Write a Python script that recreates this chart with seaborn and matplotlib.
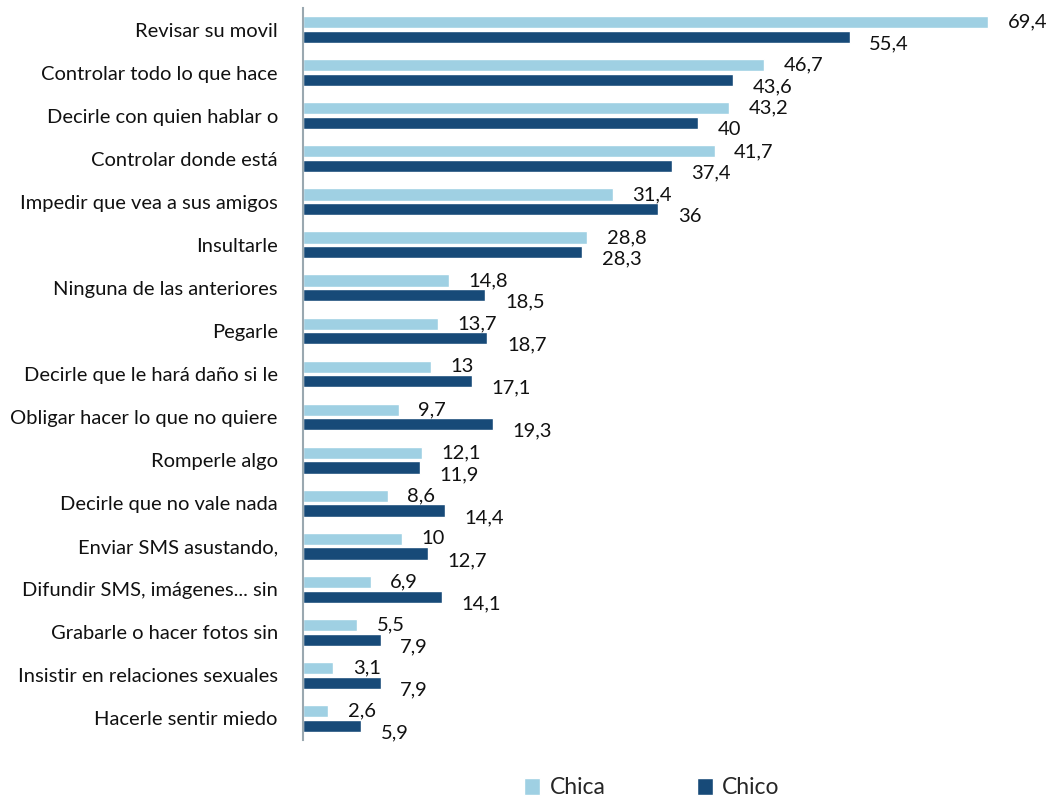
import numpy as np
import pandas as pd
import matplotlib
matplotlib.use("Agg")
import matplotlib.pyplot as plt
import seaborn as sns

categories = [
    "Revisar su movil",
    "Controlar todo lo que hace",
    "Decirle con quien hablar o",
    "Controlar donde está",
    "Impedir que vea a sus amigos",
    "Insultarle",
    "Ninguna de las anteriores",
    "Pegarle",
    "Decirle que le hará daño si le",
    "Obligar hacer lo que no quiere",
    "Romperle algo",
    "Decirle que no vale nada",
    "Enviar SMS asustando,",
    "Difundir SMS, imágenes... sin",
    "Grabarle o hacer fotos sin",
    "Insistir en relaciones sexuales",
    "Hacerle sentir miedo",
]
chica = [69.4, 46.7, 43.2, 41.7, 31.4, 28.8, 14.8, 13.7, 13, 9.7, 12.1, 8.6, 10, 6.9, 5.5, 3.1, 2.6]
chico = [55.4, 43.6, 40, 37.4, 36, 28.3, 18.5, 18.7, 17.1, 19.3, 11.9, 14.4, 12.7, 14.1, 7.9, 7.9, 5.9]
series = ["Chica", "Chico"]
colors = ["#9fd0e3", "#174a78"]

df = pd.DataFrame({
    "cat": categories * 2,
    "val": chica + chico,
    "sexo": [series[0]] * len(categories) + [series[1]] * len(categories),
})

sns.set_style("white")
plt.rcParams["font.family"] = ["Lato", "DejaVu Sans"]

fig = plt.figure(figsize=(10.55, 8), dpi=100)
ax = fig.add_axes([0.287, 0.075, 0.674, 0.915])

sns.barplot(data=df, y="cat", x="val", hue="sexo", order=categories,
            hue_order=series, palette=colors, saturation=1, orient="h",
            width=0.68, gap=0.17, ax=ax, legend=True)

ax.set_xlim(0, 72)
ax.set_xlabel("")
ax.set_ylabel("")
ax.set_xticks([])
ax.tick_params(axis="y", length=0, pad=18, labelsize=14.5, labelcolor="#111111")
for s in ["top", "right", "bottom"]:
    ax.spines[s].set_visible(False)
ax.spines["left"].set_color("#9aa8b0")
ax.spines["left"].set_linewidth(1.5)

# etiquetas de datos
for cont, dy in zip(ax.containers, [0, -5]):
    for bar, v in zip(cont, cont.datavalues):
        txt = f"{v:g}".replace(".", ",")
        y = bar.get_y() + bar.get_height() / 2
        ax.annotate(txt, (bar.get_width(), y), xytext=(14, dy),
                    textcoords="offset points", va="center", ha="left",
                    fontsize=14.5, color="#111111", annotation_clip=False)

handles, labels = ax.get_legend_handles_labels()
ax.get_legend().remove()
fig.legend(handles, labels, loc="center", bbox_to_anchor=(0.618, 0.015),
           ncol=2, frameon=False, fontsize=16.5, handlelength=0.7,
           handleheight=0.7, handletextpad=0.4, columnspacing=4.0)

fig.savefig("out.png", dpi=100)
